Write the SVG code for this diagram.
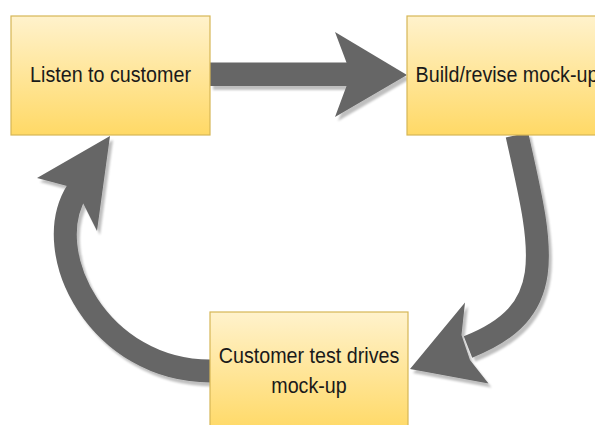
<svg xmlns="http://www.w3.org/2000/svg" width="595" height="425" viewBox="0 0 595 425">
  <defs>
    <linearGradient id="boxFill" x1="0" y1="0" x2="0" y2="1">
      <stop offset="0" stop-color="#fff2cc"/>
      <stop offset="1" stop-color="#ffd966"/>
    </linearGradient>
    <filter id="dropShadow" x="-20%" y="-20%" width="140%" height="140%">
      <feGaussianBlur in="SourceAlpha" stdDeviation="0.8" result="blur"/>
      <feOffset in="blur" dx="3" dy="4" result="off"/>
      <feFlood flood-color="#000" flood-opacity="0.25"/>
      <feComposite in2="off" operator="in" result="shadow"/>
      <feMerge>
        <feMergeNode in="shadow"/>
        <feMergeNode in="SourceGraphic"/>
      </feMerge>
    </filter>
  </defs>
  <style>
    .box { fill: url(#boxFill); stroke: #d6b656; stroke-width: 1.2; }
    .label { font-family: "Liberation Sans", Arial, sans-serif; font-size: 19.7px; fill: #1a1a1a; text-anchor: middle; }
    .shaft { fill: none; stroke: #666666; stroke-width: 23; stroke-linecap: butt; }
    .head { fill: #666666; stroke: none; }
  </style>

  <rect width="595" height="425" fill="#ffffff"/>

  <!-- connectors: thick block arrows -->
  <g id="connectors">
    <g id="edge-listen-build" filter="url(#dropShadow)">
      <rect class="head" x="210" y="62.5" width="140" height="23.5"/>
      <polygon class="head" points="346.5,62.5 335,32 407,75 335,117 346.5,86"/>
    </g>
    <g id="edge-build-test" filter="url(#dropShadow)">
      <path class="shaft" d="M517,135 C543.4,252 559,311.1 468,347"/>
      <polygon class="head" points="461.5,335 465,302.5 410,369 488.5,383.5 470,360"/>
    </g>
    <g id="edge-test-listen" filter="url(#dropShadow)">
      <path class="shaft" d="M210,371 C100,371 38,253.5 77,191"/>
      <polygon class="head" points="67,186 37,178 110,136 97,231 83,203"/>
    </g>
  </g>

  <!-- process steps -->
  <g id="node-listen">
    <rect class="box" x="11" y="16" width="199" height="119"/>
    <text class="label" transform="translate(110.5,82) scale(1,1.15)">Listen to customer</text>
  </g>
  <g id="node-build">
    <rect class="box" x="407" y="16" width="200" height="119"/>
    <text class="label" transform="translate(507,82) scale(1,1.15)">Build/revise mock-up</text>
  </g>
  <g id="node-test">
    <rect class="box" x="210" y="312" width="198" height="119"/>
    <text class="label" transform="translate(309,363) scale(1,1.15)">Customer test drives</text>
    <text class="label" transform="translate(309,393) scale(1,1.15)">mock-up</text>
  </g>
</svg>
